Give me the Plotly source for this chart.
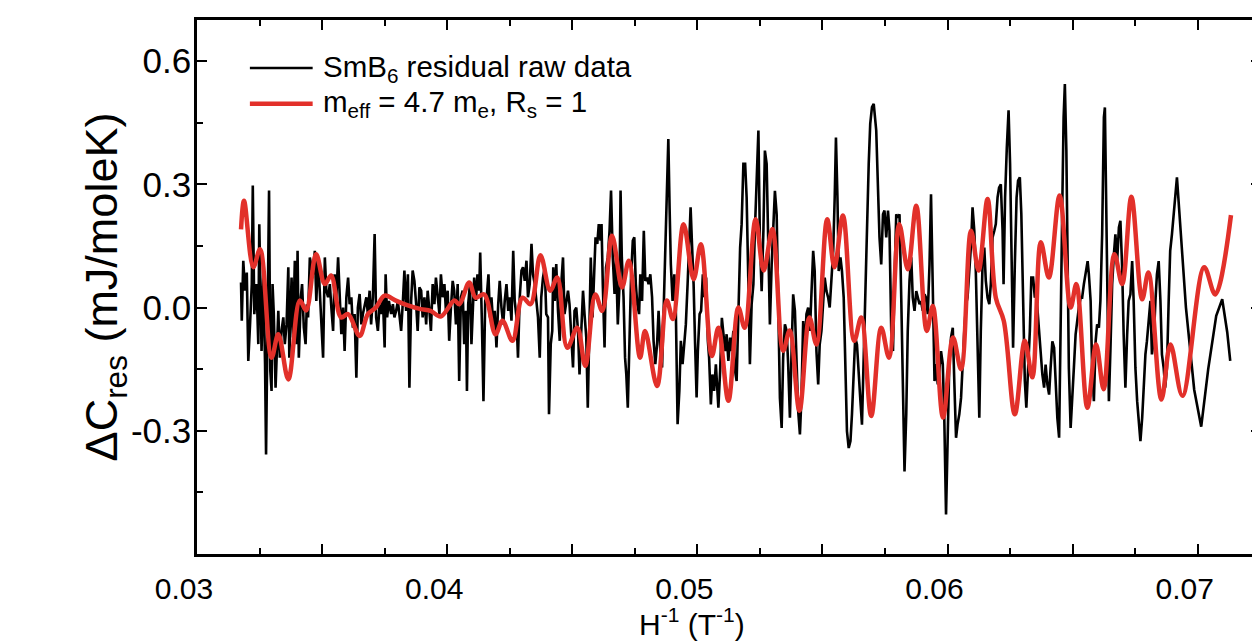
import plotly.graph_objects as go

# ---- black curve: SmB6 residual raw data (in segments) ----
x_a = [0.03176, 0.03179, 0.03185, 0.03192, 0.03199, 0.03205, 0.03212, 0.03219, 0.03223, 0.03229,
       0.03238, 0.03245, 0.03249, 0.03254, 0.03258, 0.03265, 0.03272, 0.03276, 0.03282, 0.03288,
       0.03293, 0.03298, 0.03302, 0.03307, 0.03314, 0.03321, 0.03325, 0.03331, 0.03338, 0.03345,
       0.03351, 0.03358, 0.03365, 0.03369, 0.03374, 0.03378, 0.03384, 0.03391, 0.03398, 0.03402,
       0.03407, 0.03415, 0.03420, 0.03427, 0.03434, 0.03439, 0.03444, 0.03451, 0.03458, 0.03464,
       0.03471, 0.03477, 0.03484, 0.03491, 0.03497, 0.03504, 0.03511, 0.03517, 0.03524, 0.03531,
       0.03537, 0.03544, 0.03550, 0.03557, 0.03564, 0.03570, 0.03577, 0.03584, 0.03590, 0.03597,
       0.03604, 0.03610, 0.03617, 0.03623, 0.03630, 0.03637, 0.03643, 0.03650, 0.03657, 0.03663,
       0.03670, 0.03677, 0.03683, 0.03690, 0.03696, 0.03703, 0.03710, 0.03716, 0.03723, 0.03730,
       0.03736, 0.03743, 0.03750, 0.03754, 0.03760, 0.03767, 0.03776, 0.03783, 0.03789, 0.03796]
y_a = [0.061, -0.032, 0.114, 0.041, 0.085, -0.13, -0.041, 0.057, 0.297, -0.016,
       0.057, -0.089, 0.203, 0.025, -0.106, 0.081, -0.138, -0.358, -0.089, 0.285,
       -0.154, -0.203, 0.057, -0.016, -0.195, -0.089, -0.008, -0.122, -0.057, -0.024,
       -0.089, -0.041, 0.098, -0.122, -0.024, 0.073, -0.073, 0.114, -0.089, 0.138,
       -0.122, 0.025, 0.057, -0.049, -0.089, 0.008, -0.024, 0.122, 0.098, 0.081,
       0.138, 0.016, 0.122, 0.025, -0.024, -0.122, 0.122, 0.041, 0.025, 0.057,
       0.0, -0.057, 0.081, 0.025, 0.122, 0.025, -0.065, 0.0, -0.106, 0.025,
       0.073, 0.008, 0.025, -0.049, -0.016, -0.171, 0.0, 0.033, -0.041, -0.016,
       0.008, 0.025, -0.016, 0.041, -0.041, 0.025, 0.179, -0.024, -0.057, 0.008,
       -0.016, 0.025, -0.097, 0.081, -0.024, 0.016, -0.016, 0.008, -0.024, -0.008]

x_b = [0.03803, 0.03809, 0.03816, 0.03823, 0.03829, 0.03836, 0.03843, 0.03849, 0.03856, 0.03862,
       0.03869, 0.03876, 0.03882, 0.03889, 0.03896, 0.03902, 0.03909, 0.03916, 0.03922, 0.03929,
       0.03935, 0.03942, 0.03949, 0.03955, 0.03962, 0.03969, 0.03975, 0.03982, 0.03989, 0.03995,
       0.04002, 0.04008, 0.04015, 0.04022, 0.04028, 0.04035, 0.04042, 0.04048, 0.04055, 0.04062,
       0.04068, 0.04075, 0.04079, 0.04084, 0.04091, 0.04097, 0.04103, 0.04108, 0.04115, 0.04121,
       0.04128, 0.04132, 0.04139, 0.04145, 0.04152, 0.04159, 0.04165, 0.04171, 0.04177, 0.04184,
       0.04190, 0.04197, 0.04204, 0.04210, 0.04217, 0.04224, 0.04230, 0.04237, 0.04244, 0.04250,
       0.04257, 0.04264, 0.04270, 0.04277, 0.04283, 0.04290, 0.04297, 0.04303, 0.04310, 0.04317,
       0.04323, 0.04330, 0.04337, 0.04343, 0.04350, 0.04356, 0.04363, 0.04370, 0.04376, 0.04383,
       0.04390, 0.04396, 0.04403]
y_b = [0.016, -0.016, -0.057, 0.016, 0.09, -0.008, 0.081, -0.195, 0.016, 0.09,
       0.065, 0.008, -0.057, 0.049, 0.041, -0.024, 0.025, -0.041, 0.041, -0.008,
       -0.057, 0.057, 0.008, 0.073, 0.025, -0.016, 0.081, 0.025, 0.057, -0.008,
       0.041, -0.081, 0.0, 0.065, 0.041, -0.041, 0.057, -0.179, 0.025, 0.041,
       -0.089, -0.008, -0.203, 0.008, 0.057, -0.089, 0.0, 0.073, 0.016, 0.081,
       0.041, 0.134, -0.041, -0.228, 0.016, 0.033, 0.081, -0.024, 0.025, -0.041,
       -0.008, -0.097, 0.008, 0.065, 0.0, -0.041, 0.016, 0.057, -0.008, 0.025,
       -0.032, 0.138, 0.016, -0.024, -0.122, 0.025, 0.09, 0.098, 0.065, 0.114,
       0.025, 0.057, 0.155, 0.081, 0.057, 0.025, -0.024, -0.122, 0.025, 0.073,
       0.098, -0.016, -0.024]

x_c = [0.04407, 0.04414, 0.04420, 0.04424, 0.04430, 0.04436, 0.04443, 0.04450, 0.04456, 0.04463,
       0.04469, 0.04476, 0.04483, 0.04489, 0.04496, 0.04503, 0.04509, 0.04516, 0.04523, 0.04529,
       0.04536, 0.04543, 0.04549, 0.04556, 0.04562, 0.04569, 0.04574, 0.04581, 0.04586, 0.04593,
       0.04600, 0.04606, 0.04613, 0.04617, 0.04622, 0.04629, 0.04635, 0.04642, 0.04649, 0.04655,
       0.04662, 0.04669, 0.04675, 0.04682, 0.04689, 0.04693, 0.04698, 0.04705, 0.04711, 0.04716,
       0.04722, 0.04728, 0.04735, 0.04742, 0.04748, 0.04754, 0.04760, 0.04767, 0.04772, 0.04779,
       0.04786, 0.04792, 0.04799, 0.04805, 0.04812, 0.04819, 0.04825, 0.04832, 0.04839, 0.04845,
       0.04852, 0.04859, 0.04865, 0.04872, 0.04878, 0.04884, 0.04889, 0.04894, 0.04901, 0.04908,
       0.04914, 0.04921, 0.04928, 0.04934, 0.04941, 0.04948, 0.04954, 0.04961, 0.04967, 0.04973,
       0.04978, 0.04985, 0.04991, 0.04997, 0.05002, 0.05009, 0.05015, 0.05022, 0.05028, 0.05035,
       0.05042, 0.05047, 0.05054, 0.05060, 0.05067, 0.05074]
y_c = [-0.26, -0.089, -0.057, 0.098, 0.016, 0.106, -0.008, -0.081, 0.057, 0.122,
       -0.016, 0.016, 0.041, 0.008, -0.089, -0.146, -0.008, 0.0, -0.057, -0.163,
       -0.057, 0.041, -0.016, -0.073, -0.244, -0.041, 0.122, -0.024, 0.081, 0.171,
       0.155, 0.203, 0.163, 0.203, 0.057, -0.097, 0.098, 0.122, 0.187, 0.285,
       0.122, 0.033, 0.122, -0.041, 0.057, 0.285, 0.122, 0.025, -0.122, -0.163,
       -0.244, -0.057, 0.073, 0.163, 0.171, 0.057, 0.008, -0.016, 0.081, 0.016,
       0.187, 0.065, 0.073, 0.057, 0.081, 0.025, -0.081, -0.138, -0.089, -0.008,
       -0.106, -0.146, -0.016, 0.155, 0.285, 0.41, 0.244, 0.106, 0.016, 0.081,
       -0.008, -0.284, -0.203, -0.081, -0.138, -0.089, -0.041, 0.057, 0.163, 0.244,
       0.163, 0.057, -0.089, -0.219, -0.106, -0.016, -0.008, 0.081, 0.025, 0.073,
       -0.081, -0.122, -0.236, -0.163, -0.203, -0.138]

x_d = [0.05084, 0.05091, 0.05098, 0.05104, 0.05111, 0.05117, 0.05124, 0.05131, 0.05137, 0.05144,
       0.05151, 0.05157, 0.05164, 0.05171, 0.05177, 0.05184, 0.05191, 0.05197, 0.05204, 0.05210,
       0.05217, 0.05224, 0.05230, 0.05237, 0.05244, 0.05250, 0.05257, 0.05264, 0.05270, 0.05277,
       0.05283, 0.05290, 0.05297, 0.05303, 0.05310, 0.05317, 0.05323, 0.05330, 0.05337, 0.05343,
       0.05350, 0.05357, 0.05363, 0.05370, 0.05376, 0.05383, 0.05390, 0.05396, 0.05403, 0.05410,
       0.05416, 0.05423, 0.05430, 0.05436, 0.05443, 0.05450, 0.05456, 0.05463, 0.05469, 0.05476,
       0.05483, 0.05489, 0.05496, 0.05503, 0.05509, 0.05516, 0.05523, 0.05529, 0.05536, 0.05543,
       0.05549, 0.05554, 0.05560, 0.05565, 0.05572, 0.05578, 0.05585, 0.05592, 0.05598, 0.05605,
       0.05612, 0.05618, 0.05625, 0.05631, 0.05638, 0.05645, 0.05651, 0.05658, 0.05665, 0.05671,
       0.05678, 0.05685, 0.05691, 0.05698, 0.05705]
y_d = [-0.244, -0.155, -0.025, -0.057, -0.106, -0.065, -0.13, -0.073, -0.106, -0.057,
       -0.155, -0.179, 0.024, 0.146, 0.203, 0.35, 0.35, 0.268, 0.057, -0.138,
       0.008, 0.057, 0.187, 0.309, 0.431, 0.162, 0.04, 0.187, 0.382, 0.35,
       0.154, -0.041, 0.105, 0.203, 0.284, 0.227, 0.008, -0.22, -0.293, -0.122,
       -0.041, -0.057, -0.138, -0.268, -0.122, 0.032, -0.008, -0.122, -0.252, -0.309,
       -0.22, -0.033, -0.106, -0.016, 0.0, -0.057, 0.024, 0.138, 0.089, -0.106,
       -0.187, -0.09, -0.057, 0.008, 0.073, 0.04, 0.024, 0.0, 0.073, 0.138,
       0.268, 0.414, 0.268, 0.089, 0.122, 0.089, 0.024, -0.138, -0.301, -0.342,
       -0.325, -0.26, -0.138, -0.073, -0.09, -0.179, -0.22, -0.285, -0.138, 0.024,
       0.187, 0.35, 0.447, 0.488, 0.496]

x_e = [0.05715, 0.05722, 0.05728, 0.05735, 0.05742, 0.05748, 0.05755, 0.05762, 0.05768, 0.05775,
       0.05782, 0.05788, 0.05795, 0.05801, 0.05808, 0.05815, 0.05821, 0.05828, 0.05835, 0.05841,
       0.05848, 0.05855, 0.05861, 0.05868, 0.05875, 0.05881, 0.05888, 0.05894, 0.05901, 0.05908,
       0.05914, 0.05921, 0.05928, 0.05934, 0.05941, 0.05948, 0.05954, 0.05961, 0.05967, 0.05974,
       0.05981, 0.05987, 0.05994, 0.06001, 0.06007, 0.06014, 0.06021, 0.06027, 0.06034, 0.06040,
       0.06047, 0.06054, 0.06060, 0.06067, 0.06074, 0.06080, 0.06087, 0.06094, 0.06100, 0.06107,
       0.06113, 0.06120, 0.06127, 0.06133, 0.06140, 0.06147, 0.06153, 0.06160, 0.06167, 0.06173,
       0.06180, 0.06187, 0.06193, 0.06200, 0.06206, 0.06213, 0.06220, 0.06224, 0.06230, 0.06237,
       0.06244, 0.06250, 0.06257, 0.06262, 0.06269, 0.06276, 0.06282, 0.06289, 0.06295, 0.06302,
       0.06309, 0.06315, 0.06322, 0.06329, 0.06335, 0.06342, 0.06349]
y_e = [0.431, 0.268, 0.171, 0.105, 0.227, 0.236, 0.171, 0.236, 0.187, -0.057,
       -0.106, 0.065, 0.227, 0.219, 0.227, 0.024, -0.179, -0.399, -0.26, -0.057,
       0.065, 0.122, 0.024, -0.008, 0.04, 0.024, 0.008, 0.016, -0.008, 0.032,
       0.024, -0.016, 0.105, 0.276, 0.024, -0.179, -0.138, -0.187, -0.155, -0.106,
       -0.138, -0.268, -0.504, -0.301, -0.138, -0.073, -0.049, -0.179, -0.317, -0.285,
       -0.26, -0.22, -0.138, -0.057, 0.008, 0.024, 0.089, 0.154, 0.244, 0.187,
       0.089, -0.098, -0.268, -0.057, 0.105, 0.146, 0.065, 0.024, 0.008, 0.057,
       0.171, 0.187, 0.203, 0.268, 0.292, 0.3, 0.187, 0.057, 0.268, 0.39,
       0.48, 0.35, 0.065, -0.098, 0.105, 0.268, 0.309, 0.317, 0.227, 0.024,
       -0.179, -0.244, -0.163, -0.057, 0.073, 0.073, 0.024]

x_f = [0.06353, 0.06359, 0.06366, 0.06372, 0.06379, 0.06386, 0.06392, 0.06399, 0.06406, 0.06412,
       0.06419, 0.06426, 0.06432, 0.06439, 0.06446, 0.06452, 0.06459, 0.06464, 0.06469, 0.06475,
       0.06480, 0.06485, 0.06492, 0.06499, 0.06505, 0.06512, 0.06519, 0.06525, 0.06532, 0.06538,
       0.06545, 0.06552, 0.06560, 0.06565, 0.06572, 0.06578, 0.06585, 0.06592, 0.06598, 0.06605,
       0.06611, 0.06618, 0.06625, 0.06629, 0.06634, 0.06639, 0.06645, 0.06651, 0.06658, 0.06665,
       0.06671, 0.06678, 0.06685, 0.06691, 0.06698, 0.06704, 0.06711, 0.06718, 0.06724, 0.06731,
       0.06738, 0.06744, 0.06751, 0.06758, 0.06764, 0.06771, 0.06778, 0.06784, 0.06791, 0.06797,
       0.06804, 0.06811, 0.06817, 0.06824, 0.06831, 0.06837, 0.06844, 0.06851, 0.06857, 0.06864,
       0.06870, 0.06877, 0.06884, 0.06890, 0.06897, 0.06903, 0.06910, 0.06917,
       0.06953, 0.06986, 0.07014, 0.07042, 0.07074, 0.07098, 0.07118, 0.07130]
y_f = [0.032, 0.0, -0.065, -0.114, -0.163, -0.195, -0.139, -0.187, -0.212, -0.147,
       -0.082, -0.098, -0.187, -0.269, -0.317, 0.016, 0.26, 0.463, 0.544, 0.382,
       0.097, -0.147, -0.293, -0.228, -0.147, -0.065, -0.025, 0.0, 0.024, 0.024,
       0.057, 0.081, 0.113, 0.081, 0.016, -0.147, -0.228, -0.082, -0.041, -0.049,
       0.016, 0.178, 0.463, 0.487, 0.26, -0.065, -0.228, -0.106, 0.057, 0.13,
       0.178, 0.113, 0.195, 0.211, 0.097, -0.065, -0.195, -0.065, 0.016, 0.032,
       0.113, 0.016, -0.147, -0.228, -0.269, -0.325, -0.269, -0.187, -0.114, -0.082,
       -0.025, 0.016, -0.114, -0.082, 0.016, 0.081, 0.113, 0.016, -0.114, -0.147,
       -0.195, -0.147, 0.016, 0.138, 0.178, 0.219, 0.276, 0.317,
       0.0, -0.2, -0.29, -0.15, -0.02, 0.02, -0.06, -0.13]

# ---- red curve: fit m_eff = 4.7 m_e, R_s = 1 (turning points) ----
fit_x = [0.03176, 0.03188, 0.03225, 0.03252, 0.03298, 0.03325, 0.03365, 0.03411, 0.03436, 0.03476,
         0.03511, 0.03536, 0.03576, 0.03604, 0.03650, 0.03683, 0.03715, 0.03750, 0.03795, 0.03843,
         0.03894, 0.03934, 0.03974, 0.04029, 0.04049, 0.04088, 0.04114, 0.04148, 0.04193, 0.04221,
         0.04261, 0.04301, 0.04333, 0.04373, 0.04412, 0.04440, 0.04480, 0.04520, 0.04552, 0.04592,
         0.04620, 0.04659, 0.04699, 0.04726, 0.04771, 0.04791, 0.04839, 0.04878, 0.04902, 0.04945,
         0.04985, 0.05014, 0.05058, 0.05084, 0.05124, 0.05164, 0.05189, 0.05233, 0.05265, 0.05300,
         0.05343, 0.05369, 0.05408, 0.05448, 0.05476, 0.05519, 0.05548, 0.05582, 0.05627, 0.05655,
         0.05695, 0.05735, 0.05766, 0.05807, 0.05841, 0.05875, 0.05917, 0.05941, 0.05982, 0.06022,
         0.06054, 0.06094, 0.06124, 0.06160, 0.06193, 0.06225, 0.06269, 0.06309, 0.06339, 0.06373,
         0.06405, 0.06448, 0.06492, 0.06515, 0.06559, 0.06594, 0.06624, 0.06667, 0.06698, 0.06735,
         0.06778, 0.06803, 0.06855, 0.06891, 0.06939, 0.07026, 0.07070, 0.07133]
fit_y = [0.19, 0.26, 0.098, 0.142, -0.122, -0.065, -0.175, 0.017, -0.007, 0.13,
         0.057, 0.078, -0.024, -0.016, -0.069, -0.016, 0.0, 0.029, 0.017, 0.005,
         -0.004, -0.008, -0.022, 0.017, 0.008, 0.061, 0.024, 0.032, -0.065, -0.032,
         -0.081, 0.024, 0.008, 0.127, 0.041, 0.073, -0.098, -0.049, -0.142, 0.032,
         -0.008, 0.175, 0.049, 0.114, -0.122, -0.057, -0.191, 0.017, -0.028, 0.203,
         0.069, 0.154, -0.118, -0.049, -0.227, 0.0, -0.049, 0.215, 0.09, 0.191,
         -0.105, -0.056, -0.251, -0.024, -0.09, 0.215, 0.098, 0.224, -0.081, -0.024,
         -0.264, -0.049, -0.122, 0.203, 0.093, 0.248, -0.057, 0.004, -0.268, -0.073,
         -0.15, 0.187, 0.09, 0.264, 0.024, -0.033, -0.26, -0.081, -0.17, 0.159,
         0.073, 0.273, 0.0, 0.057, -0.244, -0.09, -0.199, 0.13, 0.057, 0.27,
         0.02, 0.085, -0.224, -0.09, -0.215, 0.098, 0.032, 0.225]

x_ticks = [0.03, 0.035, 0.04, 0.045, 0.05, 0.055, 0.06, 0.065, 0.07]
x_labels = ["0.03", "", "0.04", "", "0.05", "", "0.06", "", "0.07"]
x_minor = [0.0325, 0.0375, 0.0425, 0.0475, 0.0525, 0.0575, 0.0625, 0.0675, 0.0725]
y_ticks = [-0.3, 0.0, 0.3, 0.6]
y_labels = ["-0.3", "0.0", "0.3", "0.6"]
y_minor = [-0.45, -0.15, 0.15, 0.45]

raw_x = x_a + x_b + x_c + x_d + x_e + x_f
raw_y = y_a + y_b + y_c + y_d + y_e + y_f
assert len(raw_x) == len(raw_y)
assert len(fit_x) == len(fit_y)

FONT = "Liberation Sans, Arial, sans-serif"
RED = "#e2302a"

fig = go.Figure()
fig.add_trace(go.Scatter(x=raw_x, y=raw_y, mode="lines",
                         line=dict(color="black", width=2.6),
                         name="SmB<sub>6</sub> residual raw data"))
fig.add_trace(go.Scatter(x=fit_x, y=fit_y, mode="lines",
                         line=dict(color=RED, width=4.5, shape="spline", smoothing=1.0),
                         name="m<sub>eff</sub> = 4.7 m<sub>e</sub>, R<sub>s</sub> = 1"))

axis_common = dict(showline=True, linecolor="black", linewidth=2.5, mirror="allticks",
                   ticks="inside", ticklen=10, tickwidth=2, tickcolor="black",
                   showgrid=False, zeroline=False)

fig.update_xaxes(range=[0.03, 0.07253], tickvals=x_ticks, ticktext=x_labels,
                 minor=dict(ticks="inside", ticklen=6, tickwidth=2, tickcolor="black",
                            tickvals=x_minor),
                 tickfont=dict(family=FONT, size=30, color="black"),
                 ticklabelshift=-13, ticklabelstandoff=6, **axis_common)
fig.update_yaxes(range=[-0.6, 0.7], tickvals=y_ticks, ticktext=y_labels,
                 minor=dict(ticks="inside", ticklen=6, tickwidth=2, tickcolor="black",
                            tickvals=y_minor),
                 tickfont=dict(family=FONT, size=35, color="black"),
                 ticklabelstandoff=-4, **axis_common)

# hand-drawn legend, as in the original figure
legend_rows = [("black", 2.6, 0.910, "SmB<sub>6</sub> residual raw data"),
               (RED, 4.5, 0.843, "m<sub>eff</sub> = 4.7 m<sub>e</sub>, R<sub>s</sub> = 1")]
for colour, width, ypos, label in legend_rows:
    fig.add_shape(type="line", xref="paper", yref="paper", x0=0.0497, x1=0.1087,
                  y0=ypos, y1=ypos, line=dict(color=colour, width=width))
    fig.add_annotation(xref="paper", yref="paper", x=0.1162, y=ypos, xanchor="left",
                       yanchor="middle", text=label, showarrow=False,
                       font=dict(family=FONT, size=29.5, color="black"))

fig.add_annotation(xref="paper", yref="paper", x=-0.087, y=0.5, xanchor="center",
                   yanchor="middle", textangle=-90, showarrow=False,
                   text="ΔC<sub>res</sub> (mJ/moleK)",
                   font=dict(family=FONT, size=45, color="black"))
fig.add_annotation(xref="paper", yref="paper", x=0.465, y=-0.128, xanchor="center",
                   yanchor="middle", showarrow=False,
                   text="H<sup>-1</sup> (T<sup>-1</sup>)",
                   font=dict(family=FONT, size=30, color="black"))

fig.update_layout(width=1260, height=644, showlegend=False,
                  plot_bgcolor="white", paper_bgcolor="white",
                  margin=dict(l=189, r=4, t=12, b=98))

fig.write_html("out.html")
